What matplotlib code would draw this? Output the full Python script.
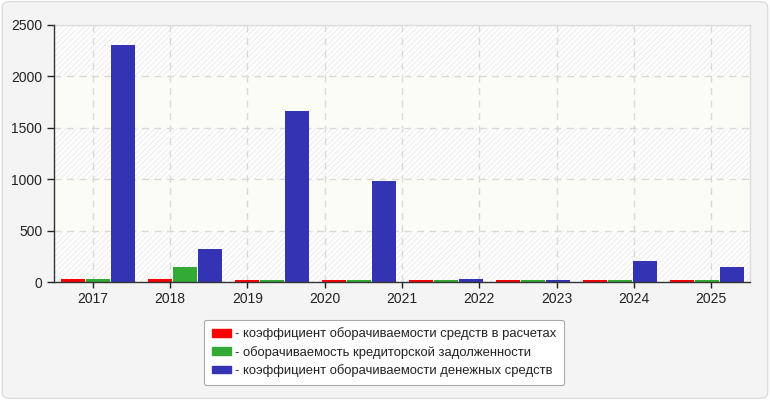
import matplotlib
matplotlib.use("Agg")
import matplotlib.pyplot as plt
from matplotlib.patches import FancyBboxPatch, Patch
import numpy as np

plt.rcParams['font.family'] = ['Liberation Sans', 'DejaVu Sans']
plt.rcParams['hatch.linewidth'] = 0.6

years = ['2017', '2018', '2019', '2020', '2021', '2022', '2023', '2024', '2025']
series_names = ['- коэффициент оборачиваемости средств в расчетах',
                '- оборачиваемость кредиторской задолженности',
                '- коэффициент оборачиваемости денежных средств']
red_vals = [25, 25, 16, 16, 16, 16, 16, 16]
green_vals = [25, 146, 16, 16, 16, 16, 16, 16]
blue_vals = [2305, 321, 1663, 982, 34, 24, 205, 147]
colors = ['#ff0000', '#33aa33', '#3333b3']
yticks = [0, 500, 1000, 1500, 2000, 2500]

fig = plt.figure(figsize=(7.7, 4.0), dpi=100)
fig.patch.set_facecolor('white')
bg = FancyBboxPatch((0.003, 0.004), 0.994, 0.992, boxstyle="round,pad=0,rounding_size=0.012",
                    transform=fig.transFigure, facecolor='#f4f4f4', edgecolor='#dcdcdc',
                    linewidth=1.0, zorder=-10)
fig.patches.append(bg)

ax = fig.add_axes([54/770, 1-282/400, (750-54)/770, (282-25)/400])
ax.set_facecolor('white')

n_groups = len(blue_vals)
ax.set_xlim(0, n_groups)
ax.set_ylim(yticks[0], yticks[-1])

# background bands
for i in range(len(yticks) - 1):
    if i % 2 == 0:
        ax.axhspan(yticks[i], yticks[i+1], facecolor='white', edgecolor='#e8e8e8',
                   hatch='//////', linewidth=0, zorder=0)
    else:
        ax.axhspan(yticks[i], yticks[i+1], facecolor='#fcfcf6', edgecolor='none',
                   linewidth=0, zorder=0)

x = np.arange(n_groups) + 0.505
w = 0.275
step = 0.289
for k, vals in enumerate([red_vals, green_vals, blue_vals]):
    ax.bar(x + (k-1)*step, vals, width=w, color=colors[k], zorder=3, linewidth=0)

tick_pos = (np.arange(len(years)) + 0.5) * n_groups / len(years)
ax.set_xticks(tick_pos)
ax.set_xticklabels(years)
ax.set_yticks(yticks)
ax.set_yticklabels([str(v) for v in yticks])
ax.tick_params(axis='both', labelsize=10, colors='#222222', direction='out', length=4, width=1)
ax.tick_params(axis='y', length=5)

ax.grid(True, color='#d9d9d9', linestyle=(0, (5, 4)), linewidth=1, zorder=1)
ax.set_axisbelow(True)

for s in ['top', 'right']:
    ax.spines[s].set_color('#dddddd')
    ax.spines[s].set_linewidth(1)
for s in ['left', 'bottom']:
    ax.spines[s].set_color('#333333')
    ax.spines[s].set_linewidth(1)
    ax.spines[s].set_zorder(4)

handles = [Patch(facecolor=c, edgecolor=c) for c in colors]
leg = fig.legend(handles, series_names, loc='upper center',
                 bbox_to_anchor=(384/770, 1-313/400), frameon=True, fontsize=9.4,
                 handlelength=1.5, handleheight=0.55, handletextpad=0.3,
                 labelspacing=0.42, borderpad=0.6, fancybox=True)
frame = leg.get_frame()
frame.set_edgecolor('#aaaaaa')
frame.set_facecolor('white')
frame.set_alpha(1)
frame.set_linewidth(0.8)
for t in leg.get_texts():
    t.set_color('#222222')

fig.savefig('out.png', dpi=100, facecolor=fig.get_facecolor())
